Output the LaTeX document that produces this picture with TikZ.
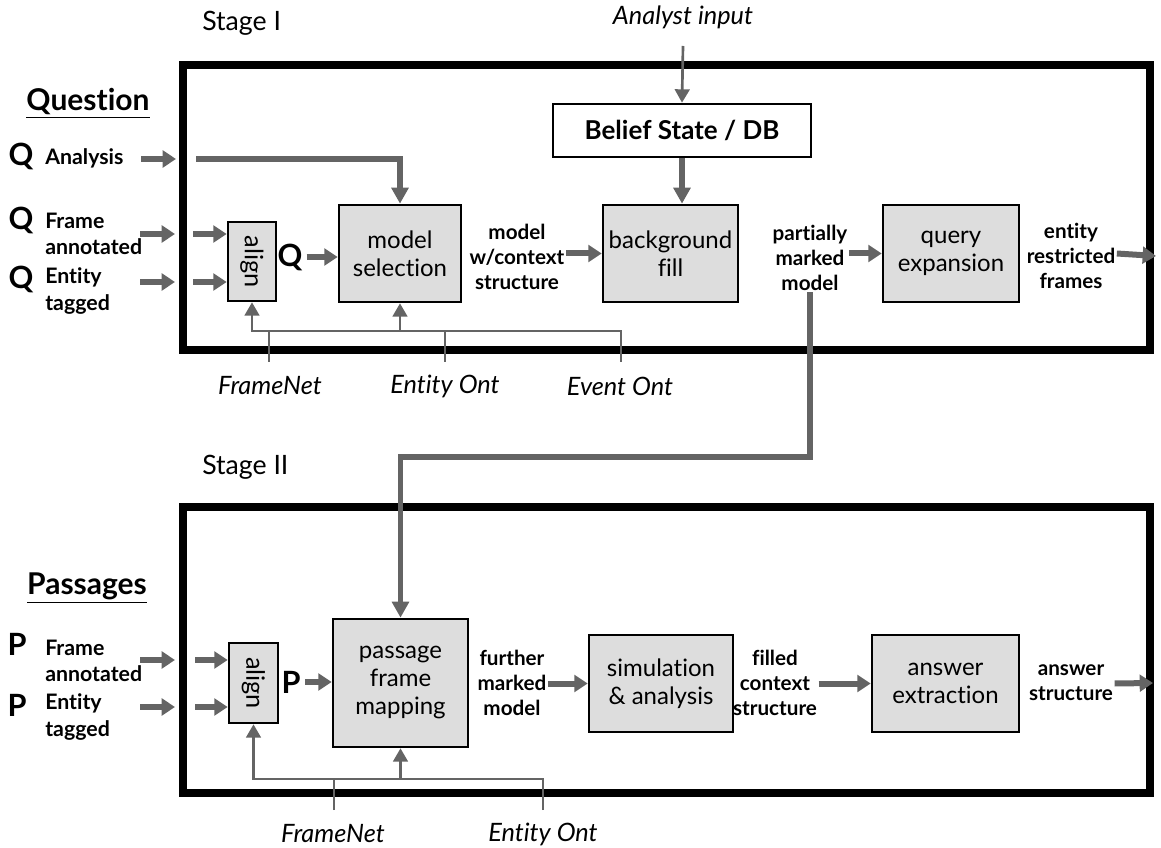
\documentclass[tikz,border=0pt]{standalone}
\usepackage{fontspec}
\setmainfont{Lato}[Ligatures=NoCommon]
\usetikzlibrary{arrows.meta}
\definecolor{arrgray}{RGB}{100,100,100}
\definecolor{boxgray}{RGB}{221,221,221}
\begin{document}
\begin{tikzpicture}[x=0.75pt,y=-0.75pt,
  proc/.style={draw=black, line width=2pt, fill=boxgray, align=center, inner sep=0pt, font=\fontsize{18}{21}\selectfont},
  lbl/.style={font=\bfseries\fontsize{15.5}{18.5}\selectfont, align=center, inner sep=1pt},
  inlbl/.style={font=\bfseries\fontsize{16}{20}\selectfont, align=left, inner sep=0pt, anchor=west},
  bigq/.style={font=\bfseries\fontsize{23}{25}\selectfont, inner sep=0pt},
  ital/.style={font=\itshape\fontsize{19}{21}\selectfont, inner sep=0pt},
  stagelbl/.style={font=\fontsize{20}{22}\selectfont, inner sep=0pt, anchor=west},
  heading/.style={font=\bfseries\fontsize{22.5}{24}\selectfont, inner sep=0pt},
  fat/.style={draw=arrgray, line width=4.5pt, -{Triangle[length=10pt,width=12.5pt]}},
  fatline/.style={draw=arrgray, line width=3.8pt, -{Triangle[length=12pt,width=12.5pt]}},
  thinarr/.style={draw=arrgray, line width=2pt, -{Triangle[length=10pt,width=11pt]}},
  thinline/.style={draw=arrgray, line width=2pt},
  stage/.style={draw=black, line width=6pt}
]
\useasboundingbox (0,0) rectangle (1161,848);

% ---------- stage frames ----------
\draw[stage] (183,65) rectangle (1150,350);
\draw[stage] (183,507) rectangle (1150,793);
\node[stagelbl] (st1) at (202,23) {Stage I};
\node[stagelbl] (st2) at (202,467) {Stage II};

% ---------- Stage I ----------
\node[heading] (qhead) at (88,103) {\underline{Question}};
\node[bigq] (q1) at (21,156) {Q};
\node[inlbl] (qa) at (45,158) {Analysis};
\node[bigq] (q2) at (21,220) {Q};
\node[inlbl] (qf) at (45,234) {Frame\\annotated};
\node[bigq] (q3) at (21,279) {Q};
\node[inlbl] (qe) at (45,291) {Entity\\tagged};

\coordinate (qaA) at (141,159); \coordinate (qaB) at (176,159);
\coordinate (qfA) at (140,234); \coordinate (qfB) at (175,234);
\coordinate (qeA) at (140,282); \coordinate (qeB) at (175,282);
\coordinate (qfC) at (193,234); \coordinate (qeC) at (193,282);
\coordinate (qaC) at (196,159);

\node[proc, minimum width=36pt, minimum height=59.25pt] (alignQ) at (252,261.5) {};
\node[rotate=-90, font=\fontsize{19}{21}\selectfont, inner sep=0pt] (alignQt) at (alignQ) {align};
\node[bigq] (qmid) at (290,257) {Q};
\node[proc, minimum width=91.5pt, minimum height=72.75pt] (msel) at (400,253.5) {model\\selection};
\node[lbl] (mwc) at (517,257) {model\\w/context\\structure};
\node[proc, minimum width=101.25pt, minimum height=72.75pt] (bfill) at (670.5,253.5) {background\\fill};
\node[draw=black, line width=2pt, fill=white, minimum width=193.5pt, minimum height=39.75pt, font=\bfseries\fontsize{19.5}{21}\selectfont] (belief) at (682,130.5) {Belief State / DB};
\node[ital] (analyst) at (683,17) {Analyst input};
\coordinate (anA) at (683,46);
\node[lbl] (pmm) at (810,258) {partially\\marked\\model};
\node[proc, minimum width=102pt, minimum height=72.75pt] (qexp) at (951,253.5) {query\\expansion};
\node[lbl] (erf) at (1071,256) {entity\\restricted\\frames};
\coordinate (erfB) at (1156,256);

\draw[fat] (qaA) -- (qaB);
\draw[fat] (qfA) -- (qfB);
\draw[fat] (qeA) -- (qeB);
\draw[fat] (qfC) -- (alignQ.west |- qfC);
\draw[fat] (qeC) -- (alignQ.west |- qeC);
\draw[fatline] (qaC) -| (msel.north);
\draw[fat] (qmid.east) ++(4,0) -- (msel.west |- qmid.east);
\draw[fat] (mwc.east |- msel.east) -- (bfill.west);
\draw[fat] (pmm.east |- bfill.east) -- (qexp.west);
\draw[fat] (erf.east |- qexp.east) -- (erfB);
\draw[thinarr] (anA) -- (belief.north);
\draw[fatline] (belief.south) -- (belief.south |- bfill.north);

% Stage I resource bus
\node[ital] (fnQ) at (270,386) {FrameNet};
\node[ital] (enQ) at (445,386) {Entity Ont};
\node[ital] (evQ) at (620,386) {Event Ont};
\coordinate (busQ) at (0,331);
\coordinate (fnQd) at (269,362);
\coordinate (enQd) at (445,362);
\coordinate (evQd) at (621,362);
\draw[thinarr] (evQd) |- (alignQ.south |- busQ) -- (alignQ.south);
\draw[thinline] (fnQd) -- (fnQd |- busQ);
\draw[thinline] (enQd) -- (enQd |- busQ);
\draw[thinarr] (msel.south |- busQ) -- (msel.south);

% ---------- Stage II ----------
\node[heading] (phead) at (87,588) {\underline{Passages}};
\node[bigq] (p1) at (17,644) {P};
\node[inlbl] (pf) at (45,661) {Frame\\annotated};
\node[bigq] (p2) at (17,705) {P};
\node[inlbl] (pe) at (45,717) {Entity\\tagged};

\coordinate (pfA) at (140,660); \coordinate (pfB) at (175,660);
\coordinate (peA) at (140,707); \coordinate (peB) at (175,707);
\coordinate (pfC) at (195,660); \coordinate (peC) at (195,707);

\node[proc, minimum width=36.75pt, minimum height=60pt] (alignP) at (253.5,683) {};
\node[rotate=-90, font=\fontsize{19}{21}\selectfont, inner sep=0pt] (alignPt) at (alignP) {align};
\node[bigq] (pmid) at (291,682) {P};
\node[proc, minimum width=101.25pt, minimum height=96pt] (pfm) at (400.5,683) {passage\\frame\\mapping};
\node[lbl] (fmm) at (512,683) {further\\marked\\model};
\node[proc, minimum width=108pt, minimum height=72.75pt] (sim) at (661,683.5) {simulation\\\& analysis};
\node[lbl] (fcs) at (775,683) {filled\\context\\structure};
\node[proc, minimum width=110.25pt, minimum height=72.75pt] (ans) at (945.5,683.5) {answer\\extraction};
\node[lbl] (as) at (1071,683) {answer\\structure};
\coordinate (asB) at (1153,683);

\draw[fat] (pfA) -- (pfB);
\draw[fat] (peA) -- (peB);
\draw[fat] (pfC) -- (alignP.west |- pfC);
\draw[fat] (peC) -- (alignP.west |- peC);
\draw[fat] (pmid.east) ++(4,0) -- (pfm.west |- pmid.east);
\draw[fat] (fmm.east |- sim.west) -- (sim.west);
\draw[fat] (fcs.east |- ans.west) -- (ans.west);
\draw[fat] (as.east |- ans.east) -- (asB);

% link from stage I to stage II
\coordinate (bendY) at (0,457);
\draw[fatline] (pmm.south) -- (pmm.south |- bendY) -| (pfm.north);

% Stage II resource bus
\node[ital] (fnP) at (333,834) {FrameNet};
\node[ital] (enP) at (543,834) {Entity Ont};
\coordinate (busP) at (0,779);
\coordinate (fnPd) at (334,810);
\coordinate (enPd) at (543,810);
\draw[thinarr] (enPd) |- (alignP.south |- busP) -- (alignP.south);
\draw[thinline] (fnPd) -- (fnPd |- busP);
\draw[thinarr] (pfm.south |- busP) -- (pfm.south);
\end{tikzpicture}
\end{document}
